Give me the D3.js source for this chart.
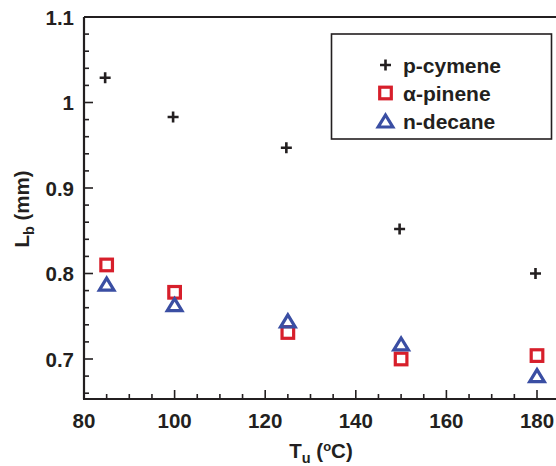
<!DOCTYPE html>
<html><head><meta charset="utf-8">
<script src="https://cdn.jsdelivr.net/npm/d3@7"></script>
<style>body{margin:0;background:#fff}svg{display:block}text{font-family:"Liberation Sans",Arial,sans-serif;font-weight:bold;fill:#231f20}</style>
</head><body><svg id="c" width="556" height="466"></svg>
<script>
const temps = [85, 100, 125, 150, 180];
const pCymene = [1.029, 0.983, 0.947, 0.852, 0.800];
const aPinene = [0.810, 0.778, 0.731, 0.700, 0.704];
const nDecane = [0.787, 0.763, 0.744, 0.717, 0.680];
const xTicks = [80, 100, 120, 140, 160, 180];
const yTicks = [0.7, 0.8, 0.9, 1, 1.1];
const yTickLabels = ["0.7", "0.8", "0.9", "1", "1.1"];
const seriesNames = ["p-cymene", "\u03b1-pinene", "n-decane"];

const svg = d3.select("#c");
const L = 84, T = 17, B = 399;
const x = d3.scaleLinear().domain([80, 180]).range([L, 537]);
const y = d3.scaleLinear().domain([0.7, 1.1]).range([359, T]);
const ink = "#231f20", red = "#d71f2b", blue = "#3a4ea3";
const xRight = 556;

// frame lines
svg.append("line").attr("x1", L).attr("x2", xRight + 2).attr("y1", T).attr("y2", T).attr("stroke", ink).attr("stroke-width", 2.2);
svg.append("line").attr("x1", L).attr("x2", L).attr("y1", T).attr("y2", B).attr("stroke", ink).attr("stroke-width", 2.2);
svg.append("line").attr("x1", L - 1).attr("x2", xRight + 2).attr("y1", B).attr("y2", B).attr("stroke", ink).attr("stroke-width", 2.2);

// x axis ticks
const xMinor = d3.range(80, 185, 5);
const gx = svg.append("g");
gx.selectAll("line").data(xMinor).join("line")
  .attr("x1", d => x(d)).attr("x2", d => x(d))
  .attr("y1", B).attr("y2", d => B - (d % 20 === 0 ? 9 : 5))
  .attr("stroke", ink).attr("stroke-width", 1.6);
gx.selectAll("text").data(xTicks).join("text")
  .attr("x", d => x(d)).attr("y", 427.5).attr("text-anchor", "middle")
  .attr("font-size", 20.5).text(d => d);

// y axis ticks
const yMinor = d3.range(0, 23).map(i => 0.66 + i * 0.02).filter(v => v <= 1.1001 && y(v) < B - 2);
const gy = svg.append("g");
gy.selectAll("line").data(yMinor).join("line")
  .attr("x1", L).attr("x2", d => L + (Math.abs(Math.round(d * 10) - d * 10) < 1e-6 ? 9 : 5))
  .attr("y1", d => y(d)).attr("y2", d => y(d))
  .attr("stroke", ink).attr("stroke-width", 1.6);
gy.selectAll("text").data(yTicks).join("text")
  .attr("x", 74).attr("y", d => y(d) + 7.5).attr("text-anchor", "end")
  .attr("font-size", 20.5).text((d, i) => yTickLabels[i]);

// axis titles
const xt = svg.append("text").attr("x", 321).attr("y", 458).attr("text-anchor", "middle").attr("font-size", 20.5);
xt.append("tspan").text("T");
xt.append("tspan").attr("font-size", 14.5).attr("dy", 5).text("u");
xt.append("tspan").attr("dy", -5).text(" (");
xt.append("tspan").attr("font-size", 13).attr("dy", -7).text("o");
xt.append("tspan").attr("dy", 7).text("C)");

const yt = svg.append("text").attr("transform", "translate(29,209) rotate(-90)").attr("text-anchor", "middle").attr("font-size", 20.5);
yt.append("tspan").text("L");
yt.append("tspan").attr("font-size", 14.5).attr("dy", 5).text("b");
yt.append("tspan").attr("dy", -5).text(" (mm)");

// markers
function plus(g, cx, cy) {
  g.append("path").attr("d", `M${cx-5.5},${cy}H${cx+5.5}M${cx},${cy-5.5}V${cy+5.5}`).attr("stroke", ink).attr("stroke-width", 2.6).attr("fill", "none");
}
function square(g, cx, cy) {
  g.append("rect").attr("x", cx - 5.8).attr("y", cy - 5.8).attr("width", 11.6).attr("height", 11.6)
    .attr("fill", "none").attr("stroke", red).attr("stroke-width", 3.2);
}
function tri(g, cx, cy) {
  g.append("path").attr("d", `M${cx},${cy-6.5}L${cx+7.3},${cy+5.5}L${cx-7.3},${cy+5.5}Z`)
    .attr("fill", "none").attr("stroke", blue).attr("stroke-width", 3.2).attr("stroke-linejoin", "miter");
}
const gp = svg.append("g");
temps.forEach((t, i) => {
  plus(gp, x(t) - 1.5, y(pCymene[i]));
  square(gp, x(t), y(aPinene[i]));
  tri(gp, x(t), y(nDecane[i]));
});

// legend
const lg = svg.append("g");
lg.append("rect").attr("x", 331.5).attr("y", 34).attr("width", 220).attr("height", 105)
  .attr("fill", "#fff").attr("stroke", ink).attr("stroke-width", 1.6);
const rows = [65, 93, 121.5];
const drawers = [plus, square, tri];
seriesNames.forEach((n, i) => {
  drawers[i](lg, 385.5, rows[i]);
  lg.append("text").attr("x", 403).attr("y", rows[i] + 7.5).attr("font-size", 21).text(n);
});
</script></body></html>
